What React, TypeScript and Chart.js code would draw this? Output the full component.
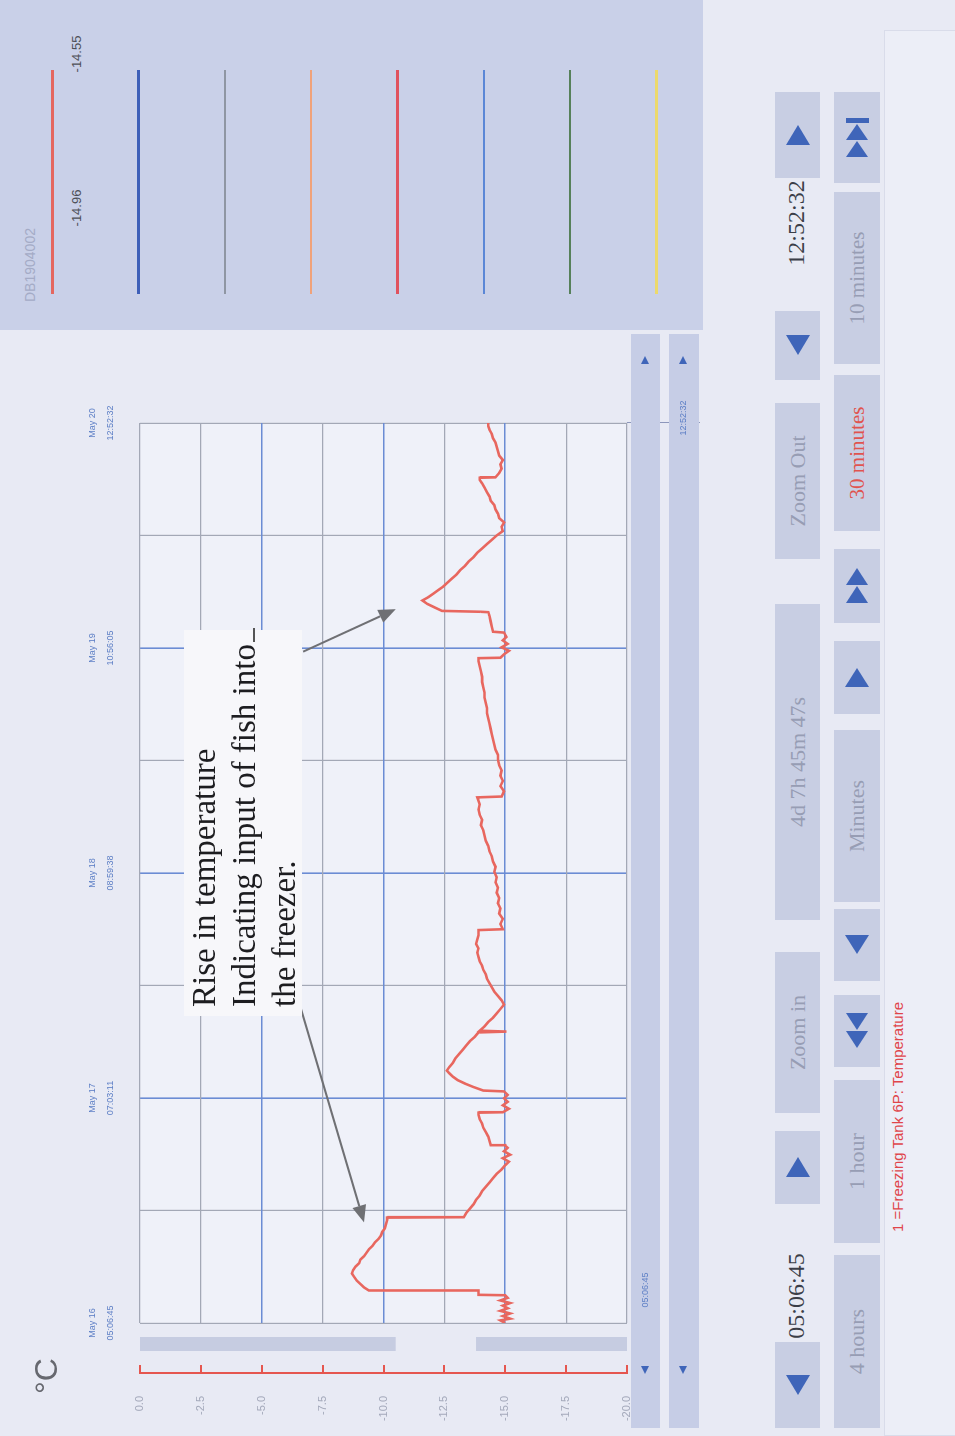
import React, { useEffect, useRef } from "react";
import { Chart, registerables } from "chart.js";

Chart.register(...registerables);

// ---------------- data ----------------
// time axis: hours since May 16 05:06:45 (span 4d 7h 45m 47s)
const SPAN_HOURS = 103.763;
const gridHours = [0, 12.97, 25.941, 38.911, 51.882, 64.852, 77.822, 90.793, 103.763];
const timeTickLabels = [
  ["May 16", "05:06:45"],
  ["May 17", "07:03:11"],
  ["May 18", "08:59:38"],
  ["May 19", "10:56:05"],
  ["May 20", "12:52:32"],
];
const tempTicks = [-20, -17.5, -15, -12.5, -10, -7.5, -5, -2.5, 0];
const tempTickLabels = ["-20.0", "-17.5", "-15.0", "-12.5", "-10.0", "-7.5", "-5.0", "-2.5", "0.0"];
const majorTemps = [-15, -10, -5];

const timeHours = [
  0.0, 0.3, 0.5, 0.8, 1.1, 1.4, 1.7, 2.0, 2.3, 2.6, 2.9, 3.2, 3.25, 3.7, 3.75,
  4.1, 4.5, 4.9, 5.3, 5.7, 6.1, 6.5, 6.9, 7.3, 7.7, 8.1, 8.5, 8.9, 9.3, 9.7, 10.1, 10.5, 10.9, 11.4, 11.9, 12.15,
  12.2, 12.7, 13.2, 13.7, 14.2, 14.7, 15.2, 15.7, 16.2, 16.7, 17.2, 17.7, 18.2, 18.6, 19.0, 19.4, 19.8, 20.2, 20.45,
  20.5, 21.0, 21.5, 22.0, 22.5, 23.0, 23.5, 24.0, 24.25, 24.3, 24.7, 25.1, 25.5, 25.9, 26.3, 26.7,
  26.8, 27.2, 27.6, 28.0, 28.4, 28.8, 29.1, 29.5, 30.0, 30.5, 31.0, 31.5, 32.0, 32.5, 33.0, 33.5, 33.6, 33.7,
  34.2, 34.7, 35.2, 35.7, 36.2, 36.7, 37.2, 37.7, 38.2, 38.7, 39.2, 39.7, 40.2, 40.7, 41.2, 41.7, 42.2, 42.7,
  43.2, 43.7, 44.2, 44.7, 45.3, 45.4, 46.0, 46.6, 47.2, 47.8, 48.4, 49.0, 49.6, 50.2, 50.8, 51.4, 52.0, 52.6,
  53.2, 53.8, 54.4, 55.0, 55.6, 56.2, 56.8, 57.4, 58.0, 58.6, 59.2, 59.8, 60.6, 60.7, 61.3, 61.9, 62.5, 63.1,
  63.7, 64.3, 64.9, 65.5, 66.1, 66.7, 67.3, 67.9, 68.5, 69.1, 69.7, 70.3, 70.9, 71.5, 72.1, 72.7, 73.3, 73.9,
  74.5, 75.1, 75.7, 76.3, 76.65, 76.7, 77.1, 77.5, 77.9, 78.3, 78.7, 79.1, 79.6, 79.7, 80.3, 80.9, 81.5, 81.95,
  82.0, 82.1, 82.5, 82.9, 83.3, 83.7, 84.1, 84.5, 84.9, 85.3, 85.8, 86.3, 86.8, 87.3, 87.8, 88.3, 88.8, 89.3,
  89.8, 90.3, 90.8, 91.3, 91.8, 92.3, 92.8, 93.3, 93.8, 94.3, 94.8, 95.3, 95.8, 96.3, 96.8, 97.2, 97.45, 97.5,
  98.0, 98.5, 99.0, 99.5, 100.0, 100.5, 101.0, 101.5, 102.0, 102.5, 103.0, 103.4, 103.76,
];
const temperatureC = [
  -15.0, -14.8, -15.2, -14.9, -15.2, -14.8, -15.1, -14.9, -15.2, -14.8, -15.1, -15.0, -13.9, -13.9, -9.4,
  -9.2, -9.05, -8.9, -8.8, -8.7, -8.75, -8.85, -9.0, -9.05, -9.2, -9.3, -9.4, -9.55, -9.65, -9.8, -9.9, -9.95, -10.05, -10.1, -10.15, -10.15,
  -13.3, -13.4, -13.55, -13.7, -13.8, -13.95, -14.05, -14.2, -14.35, -14.5, -14.65, -14.85, -15.0, -15.15, -14.9, -15.2, -14.95, -15.1, -15.0,
  -14.4, -14.35, -14.3, -14.2, -14.1, -14.05, -13.95, -13.9, -13.9, -14.9, -15.15, -14.9, -15.1, -14.95, -15.1, -14.95,
  -14.1, -13.7, -13.35, -13.05, -12.85, -12.7, -12.6, -12.7, -12.85, -12.95, -13.1, -13.25, -13.4, -13.55, -13.75, -13.9, -15.05, -13.95,
  -14.15, -14.3, -14.5, -14.65, -14.8, -14.95, -14.85, -14.7, -14.55, -14.45, -14.35, -14.25, -14.2, -14.1, -14.05, -13.95, -13.9, -13.85,
  -13.9, -13.8, -13.85, -13.9, -13.9, -14.9, -14.8, -14.9, -14.75, -14.8, -14.7, -14.75, -14.65, -14.7, -14.6, -14.65, -14.55, -14.6,
  -14.5, -14.45, -14.35, -14.3, -14.2, -14.15, -14.1, -14.0, -14.05, -13.95, -13.9, -13.95, -13.85, -14.85, -14.95, -14.8, -14.9, -14.8,
  -14.85, -14.75, -14.7, -14.7, -14.6, -14.55, -14.5, -14.45, -14.4, -14.35, -14.3, -14.25, -14.25, -14.2, -14.15, -14.15, -14.1, -14.05,
  -14.05, -14.0, -13.95, -13.9, -13.9, -14.8, -14.95, -15.15, -14.85, -15.1, -14.9, -15.05, -14.95, -14.5, -14.45, -14.4, -14.35, -14.3,
  -14.0, -12.4, -12.1, -11.8, -11.6, -11.85, -12.05, -12.25, -12.45, -12.6, -12.8, -13.0, -13.15, -13.35, -13.5, -13.7, -13.85, -14.05,
  -14.25, -14.45, -14.65, -14.9, -14.85, -14.95, -14.75, -14.7, -14.6, -14.55, -14.4, -14.35, -14.25, -14.15, -14.05, -13.95, -13.95, -14.6,
  -14.75, -14.85, -14.8, -14.9, -14.75, -14.7, -14.65, -14.6, -14.5, -14.45, -14.35, -14.3, -14.3,
];

// annotation arrows: [hours, °C] tail -> tip
const arrowTails = [[36.3, -6.6], [77.4, -6.7]];
const arrowTips = [[11.6, -9.2], [82.3, -10.5]];
const annotationLines = ["Rise in temperature", "Indicating input of fish into", "the freezer."];

const legendName = "DB1904002";
const legendValues = ["-14.96", "-14.55"];
const legendColors = ["#e4675f", "#3e5fb8", "#8f96a3", "#f0a27a", "#e0525e", "#5b87d6", "#56805a", "#ecd96c"];
const seriesTitle = "1 =Freezing Tank 6P: Temperature";
const startLabel = "05:06:45";
const endLabel = "12:52:32";

// ---------------- styling ----------------
const BG = "#e8eaf4";
const PLOT_BG = "#eff1f9";
const GRID_BLUE = "#6b8cd4";
const GRID_GRAY = "#a3a8b6";
const AXIS_RED = "#e5564f";
const BTN = "#c8cee3";
const BTN_TXT = "#979db4";
const TRI = "#3f65b9";
const SERIF = "'Liberation Serif', 'DejaVu Serif', serif";
const SANS = "'Liberation Sans', Arial, sans-serif";

const decorPlugin = {
  id: "decor",
  beforeDraw(chart: any) {
    const { ctx, chartArea: a } = chart;
    ctx.save();
    ctx.fillStyle = PLOT_BG;
    ctx.fillRect(a.left, a.top, a.right - a.left, a.bottom - a.top);
    // vertical scroll bar between temperature axis and plot
    const h = a.bottom - a.top;
    ctx.fillStyle = "#c6cce1";
    ctx.fillRect(a.left - 28, a.top, 14, h * 0.525);
    ctx.fillRect(a.left - 28, a.top + h * 0.69, 14, h * 0.31);
    // connector from plot end to time slider
    ctx.strokeStyle = "#8d97bb";
    ctx.lineWidth = 1;
    ctx.beginPath();
    ctx.moveTo(a.right + 0.5, a.bottom);
    ctx.lineTo(a.right + 0.5, chart.height);
    ctx.stroke();
    ctx.restore();
  },
  afterDatasetsDraw(chart: any) {
    const { ctx } = chart;
    const xs = chart.scales.x;
    const ys = chart.scales.y;
    ctx.save();
    arrowTails.forEach((tail, i) => {
      const tip = arrowTips[i];
      const x1 = xs.getPixelForValue(tail[0]);
      const y1 = ys.getPixelForValue(tail[1]);
      const x2 = xs.getPixelForValue(tip[0]);
      const y2 = ys.getPixelForValue(tip[1]);
      const ang = Math.atan2(y2 - y1, x2 - x1);
      const L = 17;
      const W = 7;
      const bx = x2 - L * Math.cos(ang);
      const by = y2 - L * Math.sin(ang);
      ctx.strokeStyle = "#6f7074";
      ctx.lineWidth = 2;
      ctx.beginPath();
      ctx.moveTo(x1, y1);
      ctx.lineTo(bx, by);
      ctx.stroke();
      ctx.fillStyle = "#6f7074";
      ctx.beginPath();
      ctx.moveTo(x2, y2);
      ctx.lineTo(bx + W * Math.sin(ang), by - W * Math.cos(ang));
      ctx.lineTo(bx - W * Math.sin(ang), by + W * Math.cos(ang));
      ctx.closePath();
      ctx.fill();
    });
    ctx.restore();
  },
};

function Tri({ dir, w = 18, h = 24, color = TRI }: any) {
  const half = h / 2;
  const base: any = {
    width: 0,
    height: 0,
    borderTop: `${half}px solid transparent`,
    borderBottom: `${half}px solid transparent`,
  };
  if (dir === "right") base.borderLeft = `${w}px solid ${color}`;
  else base.borderRight = `${w}px solid ${color}`;
  return <div style={base} />;
}

function Btn({ left, top, width, height, children, style }: any) {
  return (
    <div
      style={{
        position: "absolute",
        left,
        top,
        width,
        height,
        background: BTN,
        display: "flex",
        alignItems: "center",
        justifyContent: "center",
        gap: 1,
        fontFamily: SERIF,
        fontSize: 22,
        color: BTN_TXT,
        whiteSpace: "nowrap",
        ...style,
      }}
    >
      {children}
    </div>
  );
}

function Label({ left, top, width, children, style }: any) {
  return (
    <div
      style={{
        position: "absolute",
        left,
        top,
        width,
        textAlign: "center",
        whiteSpace: "nowrap",
        ...style,
      }}
    >
      {children}
    </div>
  );
}

export default function App() {
  const canvasRef = useRef<HTMLCanvasElement | null>(null);

  useEffect(() => {
    const canvas = canvasRef.current;
    if (!canvas) return;
    const setTempTicks = (s: any) => {
      s.ticks = tempTicks.map((v) => ({ value: v }));
    };
    const chart = new Chart(canvas, {
      type: "line",
      data: {
        datasets: [
          {
            label: seriesTitle,
            data: timeHours.map((t, i) => ({ x: t, y: temperatureC[i] })),
            borderColor: "#e8675f",
            borderWidth: 2.6,
            pointRadius: 0,
            tension: 0,
            fill: false,
          },
        ],
      },
      options: {
        responsive: false,
        animation: false,
        events: [],
        layout: { padding: { left: 0, top: 0, right: 87, bottom: 73 } },
        plugins: { legend: { display: false }, tooltip: { enabled: false } },
        scales: {
          x: {
            type: "linear",
            position: "top",
            min: 0,
            max: SPAN_HOURS,
            afterBuildTicks: (s: any) => {
              s.ticks = gridHours.map((v) => ({ value: v }));
            },
            afterFit: (s: any) => {
              s.height = 140;
            },
            border: { display: false },
            grid: {
              drawTicks: false,
              color: (c: any) => (c.index === 2 || c.index === 4 || c.index === 6 ? GRID_BLUE : GRID_GRAY),
              lineWidth: (c: any) => (c.index === 2 || c.index === 4 || c.index === 6 ? 1.6 : 1.2),
            },
            ticks: {
              autoSkip: false,
              maxRotation: 0,
              padding: 20,
              color: "#5f80c6",
              font: { family: SANS, size: 9, lineHeight: 2.0 },
              callback: (_v: any, i: number) => (i % 2 === 0 ? timeTickLabels[i / 2] : ""),
            },
          },
          y: {
            type: "linear",
            position: "left",
            weight: 0,
            min: -20,
            max: 0,
            afterBuildTicks: setTempTicks,
            afterFit: (s: any) => {
              s.width = 50;
            },
            border: { display: false },
            grid: {
              drawTicks: false,
              color: (c: any) => (majorTemps.includes(c.tick?.value) ? GRID_BLUE : GRID_GRAY),
              lineWidth: (c: any) => (majorTemps.includes(c.tick?.value) ? 1.6 : 1.2),
            },
            ticks: { display: false },
          },
          y2: {
            type: "linear",
            position: "left",
            weight: 1,
            min: -20,
            max: 0,
            afterBuildTicks: setTempTicks,
            afterFit: (s: any) => {
              s.width = 63;
            },
            border: { display: true, color: AXIS_RED, width: 2 },
            grid: {
              drawOnChartArea: false,
              drawTicks: true,
              tickLength: -8,
              color: AXIS_RED,
              lineWidth: 2,
            },
            ticks: {
              padding: 31,
              color: "#a2a7b9",
              font: { family: SANS, size: 11 },
              callback: (v: any) => {
                const k = tempTicks.indexOf(v);
                return k >= 0 ? tempTickLabels[k] : "";
              },
            },
          },
        },
      },
      plugins: [decorPlugin],
    } as any);
    return () => chart.destroy();
  }, []);

  const rowA = 775;
  const rowB = 834;

  return (
    <div
      style={{
        position: "absolute",
        left: 0,
        top: 0,
        width: 955,
        height: 1436,
        overflow: "hidden",
        background: BG,
      }}
    >
      <div
        style={{
          position: "absolute",
          left: 0,
          top: 0,
          width: 1436,
          height: 955,
          transformOrigin: "0 0",
          transform: "translateY(1436px) rotate(-90deg)",
          background: BG,
          fontFamily: SANS,
        }}
      >
        <canvas
          ref={canvasRef}
          width={1100}
          height={700}
          style={{ position: "absolute", left: 0, top: 0, width: 1100, height: 700 }}
        />

        {/* unit */}
        <div
          style={{
            position: "absolute",
            left: 42,
            top: 30,
            fontFamily: SANS,
            fontSize: 32,
            lineHeight: "32px",
            color: "#66686f",
          }}
        >
          °C
        </div>

        {/* annotation */}
        <div
          style={{
            position: "absolute",
            left: 420,
            top: 184,
            width: 386,
            height: 118,
            background: "#f7f7fa",
            fontFamily: SERIF,
            fontSize: 33,
            lineHeight: "40px",
            color: "#1d1d20",
            paddingLeft: 9,
            boxSizing: "border-box",
            whiteSpace: "nowrap",
          }}
        >
          {annotationLines.map((l, i) => (
            <div key={i}>
              {l}
              {i === 1 ? (
                <span style={{ display: "inline-block", width: 14, borderBottom: "2px solid #555", marginLeft: 2 }} />
              ) : null}
            </div>
          ))}
        </div>

        {/* legend panel */}
        <div
          style={{
            position: "absolute",
            left: 1106,
            top: 0,
            width: 330,
            height: 703,
            background: "#c9d0e8",
          }}
        >
          <div
            style={{
              position: "absolute",
              left: 28,
              top: 22,
              fontSize: 14,
              color: "#a4abc6",
              fontFamily: SANS,
            }}
          >
            {legendName}
          </div>
          {legendColors.map((c, i) => (
            <div
              key={i}
              style={{
                position: "absolute",
                left: 36,
                top: 51 + i * 86.3,
                width: 224,
                height: 2.5,
                background: c,
              }}
            />
          ))}
          <Label left={92} top={69} width={60} style={{ fontSize: 13, color: "#4d4f57" }}>
            {legendValues[0]}
          </Label>
          <Label left={246} top={69} width={60} style={{ fontSize: 13, color: "#4d4f57" }}>
            {legendValues[1]}
          </Label>
        </div>

        {/* time sliders */}
        <div style={{ position: "absolute", left: 8, top: 631, width: 1094, height: 29, background: "#c6cde6" }}>
          <div style={{ position: "absolute", left: 54, top: 10 }}>
            <Tri dir="left" w={8} h={9} />
          </div>
          <div style={{ position: "absolute", left: 1064, top: 10 }}>
            <Tri dir="right" w={8} h={9} />
          </div>
        </div>
        <div style={{ position: "absolute", left: 8, top: 669, width: 1094, height: 30, background: "#c6cde6" }}>
          <div style={{ position: "absolute", left: 54, top: 10 }}>
            <Tri dir="left" w={8} h={9} />
          </div>
          <div style={{ position: "absolute", left: 1064, top: 10 }}>
            <Tri dir="right" w={8} h={9} />
          </div>
        </div>
        <Label left={116} top={640} width={60} style={{ fontSize: 9, color: "#5f80c6" }}>
          {startLabel}
        </Label>
        <Label left={988} top={678} width={60} style={{ fontSize: 9, color: "#5f80c6" }}>
          {endLabel}
        </Label>

        {/* row A */}
        <Btn left={8} top={rowA} width={86} height={45}>
          <Tri dir="left" w={20} h={25} />
        </Btn>
        <Label left={95} top={rowA + 8} width={90} style={{ fontFamily: SERIF, fontSize: 24, color: "#3b3e48" }}>
          {startLabel}
        </Label>
        <Btn left={232} top={rowA} width={73} height={45}>
          <Tri dir="right" w={20} h={25} />
        </Btn>
        <Btn left={323} top={rowA} width={161} height={45}>
          Zoom in
        </Btn>
        <Btn left={516} top={rowA} width={316} height={45}>
          4d 7h 45m 47s
        </Btn>
        <Btn left={877} top={rowA} width={156} height={45}>
          Zoom Out
        </Btn>
        <Btn left={1056} top={rowA} width={69} height={45}>
          <Tri dir="left" w={20} h={25} />
        </Btn>
        <Label left={1168} top={rowA + 8} width={90} style={{ fontFamily: SERIF, fontSize: 24, color: "#3b3e48" }}>
          {endLabel}
        </Label>
        <Btn left={1258} top={rowA} width={86} height={45}>
          <Tri dir="right" w={20} h={25} />
        </Btn>

        {/* row B */}
        <Btn left={8} top={rowB} width={173} height={46}>
          4 hours
        </Btn>
        <Btn left={193} top={rowB} width={163} height={46}>
          1 hour
        </Btn>
        <Btn left={369} top={rowB} width={72} height={46}>
          <Tri dir="left" w={17} h={23} />
          <Tri dir="left" w={17} h={23} />
        </Btn>
        <Btn left={455} top={rowB} width={72} height={46}>
          <Tri dir="left" w={19} h={24} />
        </Btn>
        <Btn left={534} top={rowB} width={172} height={46}>
          Minutes
        </Btn>
        <Btn left={722} top={rowB} width={73} height={46}>
          <Tri dir="right" w={19} h={24} />
        </Btn>
        <Btn left={813} top={rowB} width={74} height={46}>
          <Tri dir="right" w={17} h={23} />
          <Tri dir="right" w={17} h={23} />
        </Btn>
        <Btn left={905} top={rowB} width={156} height={46} style={{ color: "#e0544f", fontSize: 21 }}>
          30 minutes
        </Btn>
        <Btn left={1072} top={rowB} width={172} height={46} style={{ fontSize: 21 }}>
          10 minutes
        </Btn>
        <Btn left={1253} top={rowB} width={91} height={46}>
          <Tri dir="right" w={16} h={23} />
          <Tri dir="right" w={16} h={23} />
          <div style={{ width: 5, height: 23, background: TRI }} />
        </Btn>

        {/* status panel */}
        <div
          style={{
            position: "absolute",
            left: 0,
            top: 884,
            width: 1406,
            height: 80,
            background: "#eceef7",
            border: "1px solid #d9dcea",
            boxSizing: "border-box",
          }}
        />
        <div
          style={{
            position: "absolute",
            left: 204,
            top: 889,
            fontFamily: SANS,
            fontSize: 15,
            color: "#e0454a",
            whiteSpace: "nowrap",
          }}
        >
          {seriesTitle}
        </div>
      </div>
    </div>
  );
}
